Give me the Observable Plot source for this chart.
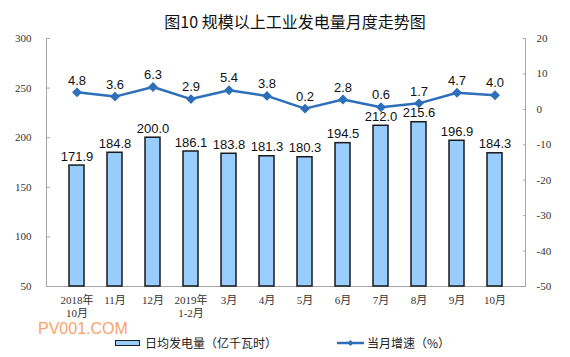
<!DOCTYPE html>
<html><head><meta charset="utf-8">
<script src="https://cdn.jsdelivr.net/npm/d3@7"></script>
<script src="https://cdn.jsdelivr.net/npm/@observablehq/plot@0.6"></script>
<style>
body{margin:0;background:#fff;}
#wrap{position:relative;width:570px;height:357px;overflow:hidden;background:#fff;font-family:"Noto Sans CJK SC","Noto Sans",sans-serif;}
#chart{position:absolute;left:0;top:0;}
#title{position:absolute;left:10px;top:11px;width:570px;text-align:center;font-size:16px;line-height:20px;color:#111;}
.wm{position:absolute;left:38px;top:319px;font-family:"Liberation Sans",Arial,sans-serif;font-size:16px;line-height:20px;color:#f7a46e;}
.lg{position:absolute;font-size:12px;line-height:16px;color:#222;}
.sw1{position:absolute;left:115px;top:340px;width:23px;height:4px;background:#99ccff;border:1.5px solid #1a1a1a;}
</style></head>
<body>
<div id="wrap">
  <div id="chart"></div>
  <div id="title">图10 规模以上工业发电量月度走势图</div>
  <div class="wm">PV001.COM</div>
  <div class="sw1"></div>
  <div class="lg" style="left:145px;top:335px;">日均发电量（亿千瓦时）</div>
  <svg style="position:absolute;left:337px;top:337px;" width="27" height="12"><line x1="0" y1="6" x2="27" y2="6" stroke="#2e6fba" stroke-width="2.5"/><path d="M13.5,3L16.5,6L13.5,9L10.5,6Z" fill="#2e6fba"/></svg>
  <div class="lg" style="left:367px;top:335px;">当月增速（%）</div>
</div>
<script>
const months = ["2018年\n10月","11月","12月","2019年\n1-2月","3月","4月","5月","6月","7月","8月","9月","10月"];
const output = [171.9,184.8,200.0,186.1,183.8,181.3,180.3,194.5,212.0,215.6,196.9,184.3];
const growth = [4.8,3.6,6.3,2.9,5.4,3.8,0.2,2.8,0.6,1.7,4.7,4.0];
const leftTicks = [50,100,150,200,250,300];
const rightTicks = [-50,-40,-30,-20,-10,0,10,20];
const leftDomain = [50,300];
const rightDomain = [-50,20];

const toLeft = v => leftDomain[0] + (v - rightDomain[0]) * (leftDomain[1]-leftDomain[0]) / (rightDomain[1]-rightDomain[0]);
const fromLeft = y => Math.round(rightDomain[0] + (y - leftDomain[0]) * (rightDomain[1]-rightDomain[0]) / (leftDomain[1]-leftDomain[0]));
const data = months.map((m,i) => ({m, output: output[i], growth: growth[i], g: toLeft(growth[i])}));

const lineColor = "#2e6fba";
const sans = '"Liberation Sans", Arial, sans-serif';
const chart = Plot.plot({
  width: 570, height: 325,
  marginTop: 38, marginBottom: 39, marginLeft: 46, marginRight: 45,
  x: {domain: months, padding: 0.6, label: null},
  y: {domain: leftDomain, label: null},
  style: {fontFamily: '"Liberation Serif", "Noto Sans CJK SC", serif', fontSize: "11px", color: "#333", background: "white"},
  marks: [
    Plot.frame({anchor: "left", stroke: "#a6a6a6"}),
    Plot.frame({anchor: "right", stroke: "#a6a6a6"}),
    Plot.frame({anchor: "bottom", stroke: "#a6a6a6"}),
    Plot.axisY(leftTicks, {anchor: "left", tickSize: -4, tickPadding: 19, stroke: "#a6a6a6", fill: "#333", label: null}),
    Plot.axisY(rightTicks.map(toLeft), {anchor: "right", tickSize: -3, tickPadding: 14, tickFormat: fromLeft, stroke: "#a6a6a6", fill: "#333", label: null}),
    Plot.axisX({tickSize: 0, tickPadding: 8, lineHeight: 1.2, fill: "#333", label: null}),
    Plot.barY(data, {x: "m", y1: leftDomain[0], y2: "output", fill: "#99ccff", stroke: "#1a1a1a", strokeWidth: 1.5}),
    Plot.text(data, {x: "m", y: "output", text: d => d.output.toFixed(1), dy: -9, fontFamily: sans, fontSize: 13, fill: "#111"}),
    Plot.line(data, {x: "m", y: "g", stroke: lineColor, strokeWidth: 2.5}),
    Plot.dot(data, {x: "m", y: "g", symbol: "diamond2", r: 3.5, fill: lineColor, stroke: lineColor}),
    Plot.text(data, {x: "m", y: "g", text: d => d.growth.toFixed(1), dy: -12, fontFamily: sans, fontSize: 13, fill: "#111"})
  ]
});
document.getElementById("chart").appendChild(chart);
</script>
</body></html>
